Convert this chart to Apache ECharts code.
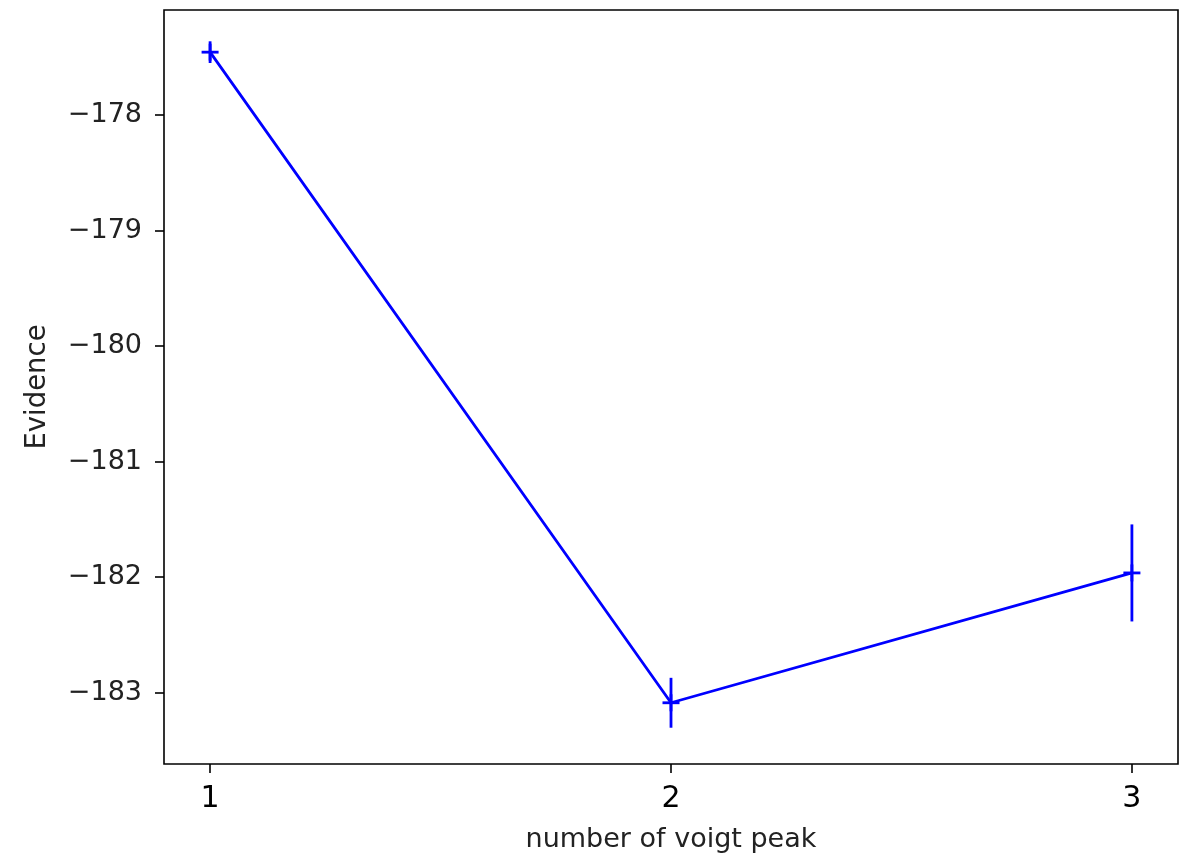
<!DOCTYPE html>
<html>
<head>
<meta charset="utf-8">
<script src="https://cdn.jsdelivr.net/npm/echarts@6/dist/echarts.min.js"></script>
<style>
html,body{margin:0;padding:0;background:#fff;}
#chart{width:1183px;height:854px;}
</style>
</head>
<body>
<div id="chart"></div>
<script>
const nPeaks = [1, 2, 3];
const evidence = [-177.455, -183.087, -181.963];
const evidenceErr = [0.094, 0.216, 0.42];
const xTicks = [1, 2, 3];
const yTicks = [-183, -182, -181, -180, -179, -178];

const points = nPeaks.map((x, i) => [x, evidence[i], evidenceErr[i]]);
const FONT = 'DejaVu Sans';
const chart = echarts.init(document.getElementById('chart'));
chart.setOption({
  animation: false,
  backgroundColor: '#fff',
  grid: {left: 164, top: 10, right: 5, bottom: 90, containLabel: false, outerBoundsMode: 'none',
    show: true, borderColor: '#000', borderWidth: 1.6, backgroundColor: 'transparent'},
  xAxis: {
    type: 'value', min: 0.9, max: 3.1,
    name: 'number of voigt peak', nameLocation: 'middle', nameGap: 62,
    nameTextStyle: {fontFamily: FONT, fontSize: 27, color: '#222'},
    axisLine: {show: false},
    splitLine: {show: false},
    axisTick: {show: true, length: 9, inside: false, customValues: xTicks, lineStyle: {color: '#000', width: 1.6}},
    axisLabel: {customValues: xTicks, margin: 20, fontFamily: FONT, fontSize: 30, color: '#000'}
  },
  yAxis: {
    type: 'value', min: -183.617, max: -177.09,
    name: 'Evidence', nameLocation: 'middle', nameGap: 112, nameRotate: 90,
    nameTextStyle: {fontFamily: FONT, fontSize: 27.5, color: '#222'},
    axisLine: {show: false},
    splitLine: {show: false},
    axisTick: {show: true, length: 9, inside: false, customValues: yTicks, lineStyle: {color: '#000', width: 1.6}},
    axisLabel: {customValues: yTicks, margin: 22, fontFamily: FONT, fontSize: 27, color: '#222',
      formatter: v => String(Math.round(v)).replace('-', '\u2212')}
  },
  series: [
    {
      type: 'line', data: points.map(p => [p[0], p[1]]),
      showSymbol: false, lineStyle: {color: '#0000ff', width: 2.8}, z: 2
    },
    {
      type: 'custom', data: points, z: 3,
      renderItem: function (params, api) {
        const x = api.value(0), y = api.value(1), e = api.value(2);
        const c = api.coord([x, y]);
        const top = api.coord([x, y + e]);
        const bot = api.coord([x, y - e]);
        const st = {stroke: '#0000ff', lineWidth: 2.8};
        return {type: 'group', children: [
          {type: 'line', shape: {x1: top[0], y1: top[1], x2: bot[0], y2: bot[1]}, style: st},
          {type: 'line', shape: {x1: c[0] - 8.5, y1: c[1], x2: c[0] + 8.5, y2: c[1]}, style: st},
          {type: 'line', shape: {x1: c[0], y1: c[1] - 8.5, x2: c[0], y2: c[1] + 8.5}, style: st}
        ]};
      }
    }
  ]
});
</script>
</body>
</html>
